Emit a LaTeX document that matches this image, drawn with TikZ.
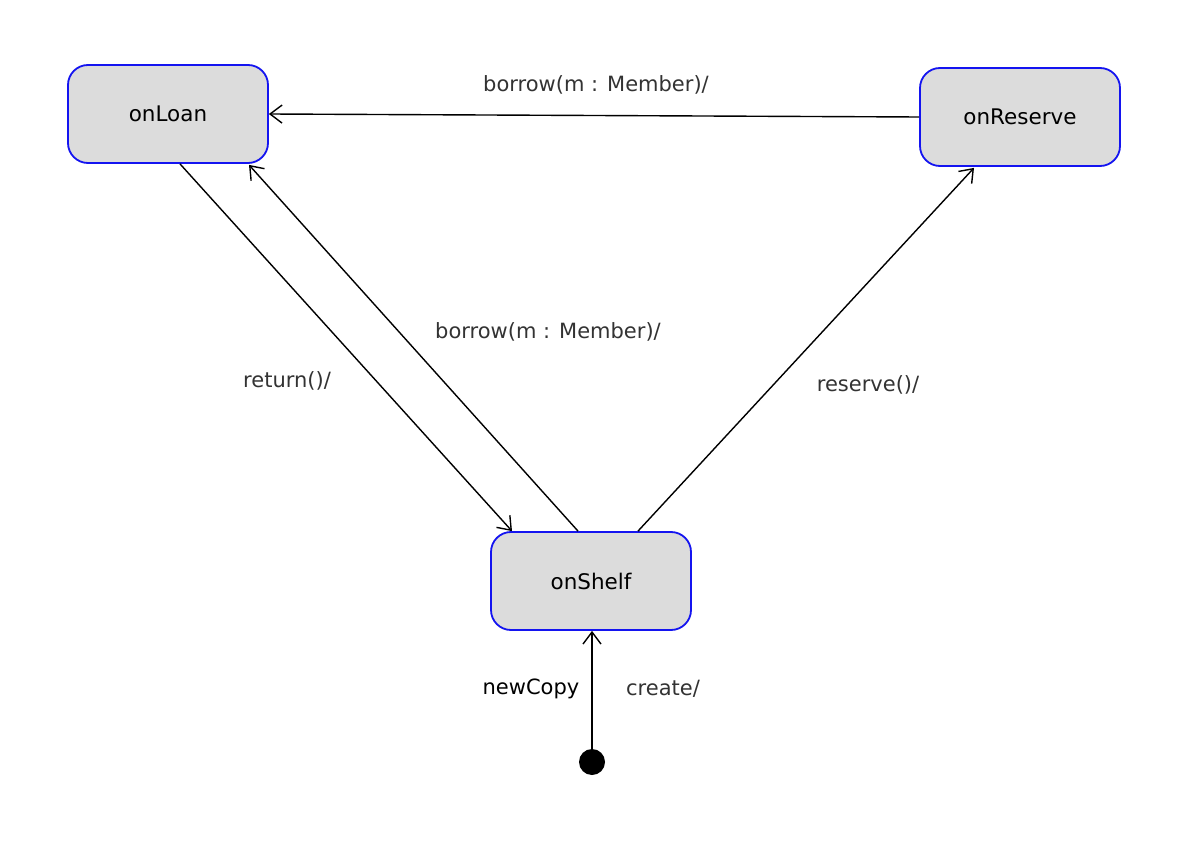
\documentclass[tikz,border=0pt]{standalone}
\usepackage{fontspec}
\setmainfont{DejaVu Sans}
\usetikzlibrary{arrows.meta}
\definecolor{stfill}{RGB}{220,220,220}
\definecolor{stline}{RGB}{20,20,240}
\definecolor{lbl}{RGB}{51,51,51}
\tikzset{
  state/.style={draw=stline, line width=1.8pt, fill=stfill, rounded corners=20pt,
    minimum width=200pt, minimum height=98pt, inner sep=0pt,
    font=\fontsize{21.5}{24}\selectfont, text=black},
  trans/.style={line width=1.4pt, -{Straight Barb[length=12pt,width=18pt,line width=1.4pt]}},
  tlabel/.style={font=\fontsize{21}{24}\selectfont, text=lbl, inner sep=0pt},
}
\begin{document}
\begin{tikzpicture}[x=1pt,y=-1pt]
\useasboundingbox[fill=white] (0,0) rectangle (1194,842);
\node[state] (onLoan) at (168,114) {onLoan};
\node[state] (onReserve) at (1020,117) {onReserve};
\node[state] (onShelf) at (591,581) {onShelf};
\node[circle, fill=black, inner sep=0pt, minimum size=26pt] (init) at (592,762) {};

\draw[trans] (onReserve.west) -- (onLoan.east);
\draw[trans] ([xshift=12pt]onLoan.south) -- ([xshift=-79pt]onShelf.north);
\draw[trans] ([xshift=-13pt]onShelf.north) -- ([xshift=81pt,yshift=-1pt]onLoan.south);
\draw[trans] ([xshift=47pt]onShelf.north) -- ([xshift=-46pt,yshift=-1pt]onReserve.south);
\draw[trans] (init) -- (init |- onShelf.south);

\node[tlabel] (l1) at (596,85) {borrow(m : Member)/};
\node[tlabel] (l2) at (287,381) {return()/};
\node[tlabel] (l3) at (548,332) {borrow(m : Member)/};
\node[tlabel] (l4) at (868,385) {reserve()/};
\node[tlabel, text=black] (l5) at (531,689) {newCopy};
\node[tlabel] (l6) at (663,689) {create/};
\end{tikzpicture}
\end{document}
